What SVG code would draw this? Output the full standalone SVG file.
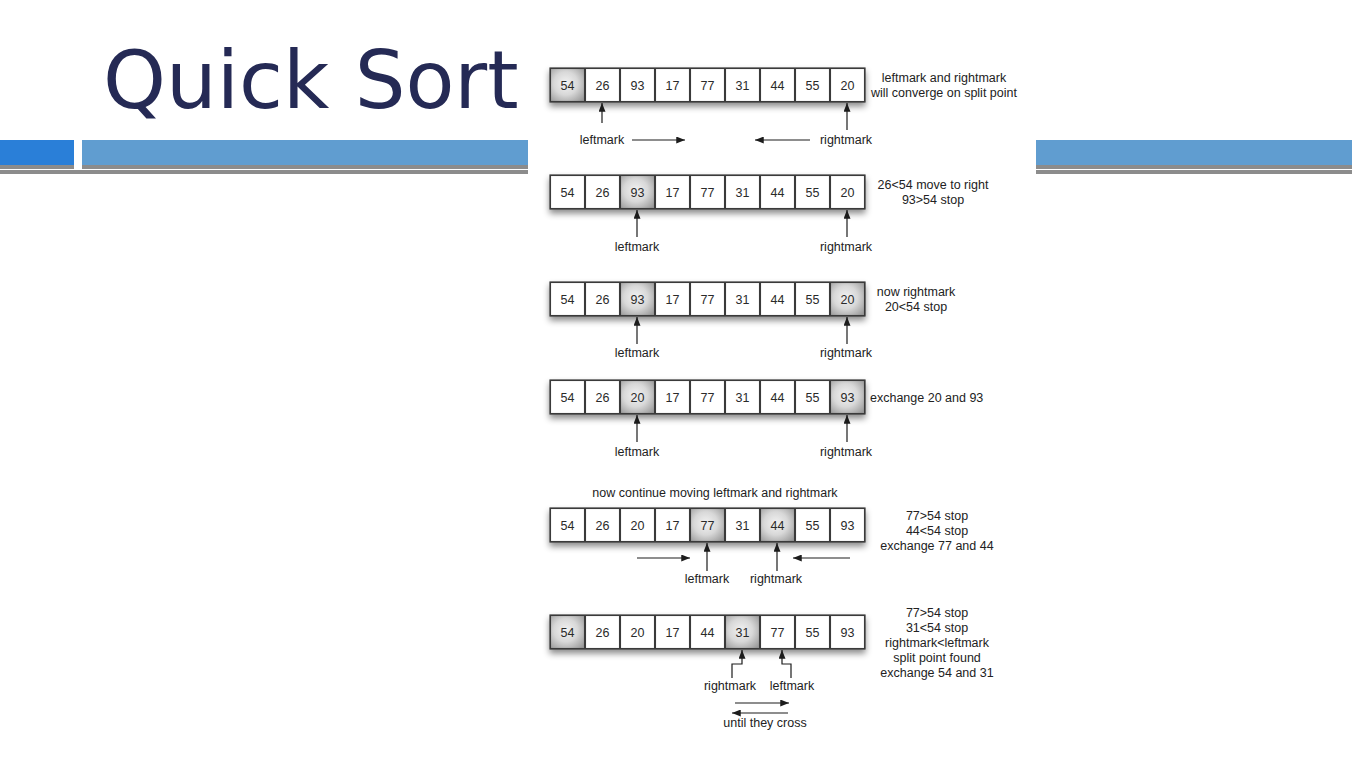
<svg xmlns="http://www.w3.org/2000/svg" width="1352" height="759" viewBox="0 0 1352 759">
  <defs>
    <style>
      .title { font-family: "DejaVu Sans", sans-serif; font-size: 80px; fill: #252a55; }
      .num { font-family: "Liberation Sans", Arial, sans-serif; font-size: 12.5px; fill: #2a2a2a; text-anchor: middle; }
      .lbl { font-family: "Liberation Sans", Arial, sans-serif; font-size: 12.5px; fill: #222; text-anchor: middle; }
      .lbl-l { font-family: "Liberation Sans", Arial, sans-serif; font-size: 12.5px; fill: #222; }
      .frame { fill: #dcdcdc; stroke: #3a3a3a; stroke-width: 1.2; }
      .cell { fill: #ffffff; stroke: #3a3a3a; stroke-width: 1.1; }
      .cell.hi { fill: url(#hiFill); }
      .arrow { fill: none; stroke: #1c1c1c; stroke-width: 1.2; marker-end: url(#head); }
    </style>
    <radialGradient id="hiFill" cx="0.45" cy="0.45" r="0.7">
      <stop offset="0" stop-color="#f2f2f2"/>
      <stop offset="0.5" stop-color="#d8d8d8"/>
      <stop offset="1" stop-color="#9a9a9a"/>
    </radialGradient>
    <filter id="shadow" x="-5%" y="-30%" width="110%" height="180%">
      <feDropShadow dx="0" dy="4" stdDeviation="3" flood-color="#000" flood-opacity="0.45"/>
    </filter>
    <marker id="head" viewBox="0 0 10 8" refX="10" refY="4" markerWidth="9" markerHeight="7" markerUnits="userSpaceOnUse" orient="auto">
      <path d="M0,0 L10,4 L0,8 Z" fill="#1c1c1c"/>
    </marker>
    <!-- backing frame shared by every array row: 9 cells of 35px -->
    <g id="rowFrame">
      <rect class="frame" x="550" y="0" width="315" height="34" filter="url(#shadow)"/>
    </g>
  </defs>

  <rect width="1352" height="759" fill="#ffffff"/>

  <!-- header bars -->
  <g id="header">
    <rect x="0" y="140" width="74" height="25" fill="#2a7fd8"/>
    <rect x="0" y="165" width="74" height="4" fill="#8c8c8c"/>
    <rect x="82" y="140" width="1270" height="25" fill="#609dd0"/>
    <rect x="82" y="165" width="1270" height="4" fill="#8c8c8c"/>
    <rect x="0" y="170" width="1352" height="4" fill="#8c8c8c"/>
  </g>

  <text class="title" x="103" y="108">Quick Sort</text>

  <!-- figure panel -->
  <rect x="528" y="56" width="508" height="686" fill="#ffffff"/>

  <!-- row 1 -->
  <g id="row1" transform="translate(0,68)">
    <use href="#rowFrame"/>
    <rect class="cell hi" x="550.5" y="0.5" width="34" height="33"/>
    <rect class="cell" x="585.5" y="0.5" width="34" height="33"/>
    <rect class="cell" x="620.5" y="0.5" width="34" height="33"/>
    <rect class="cell" x="655.5" y="0.5" width="34" height="33"/>
    <rect class="cell" x="690.5" y="0.5" width="34" height="33"/>
    <rect class="cell" x="725.5" y="0.5" width="34" height="33"/>
    <rect class="cell" x="760.5" y="0.5" width="34" height="33"/>
    <rect class="cell" x="795.5" y="0.5" width="34" height="33"/>
    <rect class="cell" x="830.5" y="0.5" width="34" height="33"/>
    <text class="num" x="567.5" y="21.5">54</text>
    <text class="num" x="602.5" y="21.5">26</text>
    <text class="num" x="637.5" y="21.5">93</text>
    <text class="num" x="672.5" y="21.5">17</text>
    <text class="num" x="707.5" y="21.5">77</text>
    <text class="num" x="742.5" y="21.5">31</text>
    <text class="num" x="777.5" y="21.5">44</text>
    <text class="num" x="812.5" y="21.5">55</text>
    <text class="num" x="847.5" y="21.5">20</text>
  </g>

  <!-- row 2 -->
  <g id="row2" transform="translate(0,175)">
    <use href="#rowFrame"/>
    <rect class="cell" x="550.5" y="0.5" width="34" height="33"/>
    <rect class="cell" x="585.5" y="0.5" width="34" height="33"/>
    <rect class="cell hi" x="620.5" y="0.5" width="34" height="33"/>
    <rect class="cell" x="655.5" y="0.5" width="34" height="33"/>
    <rect class="cell" x="690.5" y="0.5" width="34" height="33"/>
    <rect class="cell" x="725.5" y="0.5" width="34" height="33"/>
    <rect class="cell" x="760.5" y="0.5" width="34" height="33"/>
    <rect class="cell" x="795.5" y="0.5" width="34" height="33"/>
    <rect class="cell" x="830.5" y="0.5" width="34" height="33"/>
    <text class="num" x="567.5" y="21.5">54</text>
    <text class="num" x="602.5" y="21.5">26</text>
    <text class="num" x="637.5" y="21.5">93</text>
    <text class="num" x="672.5" y="21.5">17</text>
    <text class="num" x="707.5" y="21.5">77</text>
    <text class="num" x="742.5" y="21.5">31</text>
    <text class="num" x="777.5" y="21.5">44</text>
    <text class="num" x="812.5" y="21.5">55</text>
    <text class="num" x="847.5" y="21.5">20</text>
  </g>

  <!-- row 3 -->
  <g id="row3" transform="translate(0,282)">
    <use href="#rowFrame"/>
    <rect class="cell" x="550.5" y="0.5" width="34" height="33"/>
    <rect class="cell" x="585.5" y="0.5" width="34" height="33"/>
    <rect class="cell hi" x="620.5" y="0.5" width="34" height="33"/>
    <rect class="cell" x="655.5" y="0.5" width="34" height="33"/>
    <rect class="cell" x="690.5" y="0.5" width="34" height="33"/>
    <rect class="cell" x="725.5" y="0.5" width="34" height="33"/>
    <rect class="cell" x="760.5" y="0.5" width="34" height="33"/>
    <rect class="cell" x="795.5" y="0.5" width="34" height="33"/>
    <rect class="cell hi" x="830.5" y="0.5" width="34" height="33"/>
    <text class="num" x="567.5" y="21.5">54</text>
    <text class="num" x="602.5" y="21.5">26</text>
    <text class="num" x="637.5" y="21.5">93</text>
    <text class="num" x="672.5" y="21.5">17</text>
    <text class="num" x="707.5" y="21.5">77</text>
    <text class="num" x="742.5" y="21.5">31</text>
    <text class="num" x="777.5" y="21.5">44</text>
    <text class="num" x="812.5" y="21.5">55</text>
    <text class="num" x="847.5" y="21.5">20</text>
  </g>

  <!-- row 4 -->
  <g id="row4" transform="translate(0,380)">
    <use href="#rowFrame"/>
    <rect class="cell" x="550.5" y="0.5" width="34" height="33"/>
    <rect class="cell" x="585.5" y="0.5" width="34" height="33"/>
    <rect class="cell hi" x="620.5" y="0.5" width="34" height="33"/>
    <rect class="cell" x="655.5" y="0.5" width="34" height="33"/>
    <rect class="cell" x="690.5" y="0.5" width="34" height="33"/>
    <rect class="cell" x="725.5" y="0.5" width="34" height="33"/>
    <rect class="cell" x="760.5" y="0.5" width="34" height="33"/>
    <rect class="cell" x="795.5" y="0.5" width="34" height="33"/>
    <rect class="cell hi" x="830.5" y="0.5" width="34" height="33"/>
    <text class="num" x="567.5" y="21.5">54</text>
    <text class="num" x="602.5" y="21.5">26</text>
    <text class="num" x="637.5" y="21.5">20</text>
    <text class="num" x="672.5" y="21.5">17</text>
    <text class="num" x="707.5" y="21.5">77</text>
    <text class="num" x="742.5" y="21.5">31</text>
    <text class="num" x="777.5" y="21.5">44</text>
    <text class="num" x="812.5" y="21.5">55</text>
    <text class="num" x="847.5" y="21.5">93</text>
  </g>

  <!-- row 5 -->
  <g id="row5" transform="translate(0,508)">
    <use href="#rowFrame"/>
    <rect class="cell" x="550.5" y="0.5" width="34" height="33"/>
    <rect class="cell" x="585.5" y="0.5" width="34" height="33"/>
    <rect class="cell" x="620.5" y="0.5" width="34" height="33"/>
    <rect class="cell" x="655.5" y="0.5" width="34" height="33"/>
    <rect class="cell hi" x="690.5" y="0.5" width="34" height="33"/>
    <rect class="cell" x="725.5" y="0.5" width="34" height="33"/>
    <rect class="cell hi" x="760.5" y="0.5" width="34" height="33"/>
    <rect class="cell" x="795.5" y="0.5" width="34" height="33"/>
    <rect class="cell" x="830.5" y="0.5" width="34" height="33"/>
    <text class="num" x="567.5" y="21.5">54</text>
    <text class="num" x="602.5" y="21.5">26</text>
    <text class="num" x="637.5" y="21.5">20</text>
    <text class="num" x="672.5" y="21.5">17</text>
    <text class="num" x="707.5" y="21.5">77</text>
    <text class="num" x="742.5" y="21.5">31</text>
    <text class="num" x="777.5" y="21.5">44</text>
    <text class="num" x="812.5" y="21.5">55</text>
    <text class="num" x="847.5" y="21.5">93</text>
  </g>

  <!-- row 6 -->
  <g id="row6" transform="translate(0,615)">
    <use href="#rowFrame"/>
    <rect class="cell hi" x="550.5" y="0.5" width="34" height="33"/>
    <rect class="cell" x="585.5" y="0.5" width="34" height="33"/>
    <rect class="cell" x="620.5" y="0.5" width="34" height="33"/>
    <rect class="cell" x="655.5" y="0.5" width="34" height="33"/>
    <rect class="cell" x="690.5" y="0.5" width="34" height="33"/>
    <rect class="cell hi" x="725.5" y="0.5" width="34" height="33"/>
    <rect class="cell" x="760.5" y="0.5" width="34" height="33"/>
    <rect class="cell" x="795.5" y="0.5" width="34" height="33"/>
    <rect class="cell" x="830.5" y="0.5" width="34" height="33"/>
    <text class="num" x="567.5" y="21.5">54</text>
    <text class="num" x="602.5" y="21.5">26</text>
    <text class="num" x="637.5" y="21.5">20</text>
    <text class="num" x="672.5" y="21.5">17</text>
    <text class="num" x="707.5" y="21.5">44</text>
    <text class="num" x="742.5" y="21.5">31</text>
    <text class="num" x="777.5" y="21.5">77</text>
    <text class="num" x="812.5" y="21.5">55</text>
    <text class="num" x="847.5" y="21.5">93</text>
  </g>

  <!-- pointer arrows -->
  <g id="connectors">
    <path class="arrow" d="M602,123 L602,103"/>
    <path class="arrow" d="M632,140 L685,140"/>
    <path class="arrow" d="M810,140 L755,140"/>
    <path class="arrow" d="M847,130 L847,103"/>

    <path class="arrow" d="M637,237 L637,210"/>
    <path class="arrow" d="M847,237 L847,210"/>

    <path class="arrow" d="M637,344 L637,317"/>
    <path class="arrow" d="M847,344 L847,317"/>

    <path class="arrow" d="M637,442 L637,415"/>
    <path class="arrow" d="M847,442 L847,415"/>

    <path class="arrow" d="M707,571 L707,543"/>
    <path class="arrow" d="M777,571 L777,543"/>
    <path class="arrow" d="M637,558 L690,558"/>
    <path class="arrow" d="M850,558 L793,558"/>

    <path class="arrow" d="M732,678 L732,664 L742,664 L742,650"/>
    <path class="arrow" d="M791,678 L791,664 L782,664 L782,650"/>
    <path class="arrow" d="M735,703 L789,703"/>
    <path class="arrow" d="M788,713 L732,713"/>
  </g>

  <!-- pointer labels and notes -->
  <g id="labels">
    <text class="lbl" x="602" y="144">leftmark</text>
    <text class="lbl" x="846" y="144">rightmark</text>
    <text class="lbl" x="944" y="82">leftmark and rightmark</text>
    <text class="lbl" x="944" y="97">will converge on split point</text>

    <text class="lbl" x="637" y="251">leftmark</text>
    <text class="lbl" x="846" y="251">rightmark</text>
    <text class="lbl" x="933" y="189">26&lt;54 move to right</text>
    <text class="lbl" x="933" y="204">93&gt;54 stop</text>

    <text class="lbl" x="637" y="357">leftmark</text>
    <text class="lbl" x="846" y="357">rightmark</text>
    <text class="lbl" x="916" y="296">now rightmark</text>
    <text class="lbl" x="916" y="311">20&lt;54 stop</text>

    <text class="lbl" x="637" y="456">leftmark</text>
    <text class="lbl" x="846" y="456">rightmark</text>
    <text class="lbl-l" x="870" y="402">exchange 20 and 93</text>

    <text class="lbl" x="715" y="497">now continue moving leftmark and rightmark</text>
    <text class="lbl" x="707" y="583">leftmark</text>
    <text class="lbl" x="776" y="583">rightmark</text>
    <text class="lbl" x="937" y="520">77&gt;54 stop</text>
    <text class="lbl" x="937" y="535">44&lt;54 stop</text>
    <text class="lbl" x="937" y="550">exchange 77 and 44</text>

    <text class="lbl" x="730" y="690">rightmark</text>
    <text class="lbl" x="792" y="690">leftmark</text>
    <text class="lbl" x="765" y="727">until they cross</text>
    <text class="lbl" x="937" y="617">77&gt;54 stop</text>
    <text class="lbl" x="937" y="632">31&lt;54 stop</text>
    <text class="lbl" x="937" y="647">rightmark&lt;leftmark</text>
    <text class="lbl" x="937" y="662">split point found</text>
    <text class="lbl" x="937" y="677">exchange 54 and 31</text>
  </g>
</svg>
